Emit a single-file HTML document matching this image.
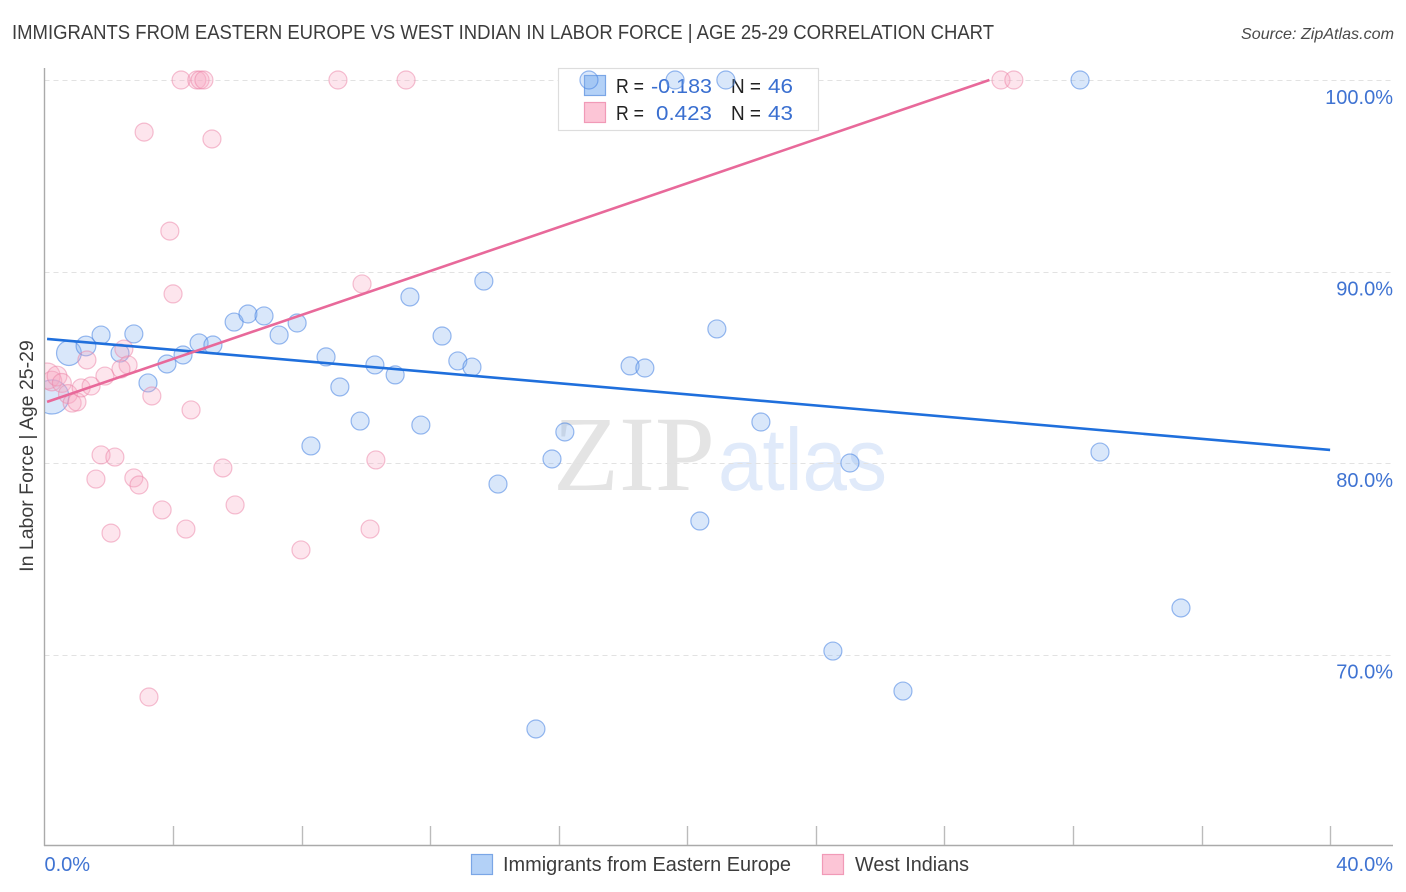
<!DOCTYPE html>
<html lang="en">
<head>
<meta charset="utf-8">
<title>Immigrants from Eastern Europe vs West Indian in Labor Force | Age 25-29 Correlation Chart</title>
<style>
html,body{margin:0;padding:0;background:#fff;width:1406px;height:892px;overflow:hidden}
svg{display:block;font-family:"Liberation Sans",sans-serif}
</style>
</head>
<body>
<svg id="chart" xmlns="http://www.w3.org/2000/svg" width="1406" height="892" viewBox="0 0 1406 892">
  <defs>
    <clipPath id="plot-clip"><rect x="45" y="60" width="1361" height="786"/></clipPath>
  </defs>
  <text x="12" y="39" font-size="20" fill="#3c3c3c" textLength="982" lengthAdjust="spacingAndGlyphs">IMMIGRANTS FROM EASTERN EUROPE VS WEST INDIAN IN LABOR FORCE | AGE 25-29 CORRELATION CHART</text>
  <text x="1394" y="39" font-size="16" font-style="italic" fill="#4a4a4a" text-anchor="end" textLength="153" lengthAdjust="spacingAndGlyphs">Source: ZipAtlas.com</text>

  <g id="watermark">
    <text x="553" y="490" font-family="'Liberation Serif',serif" font-size="107" fill="#e4e4e4" textLength="162" lengthAdjust="spacingAndGlyphs">ZIP</text>
    <text x="718" y="490" font-size="88" fill="#e0eafa" textLength="169" lengthAdjust="spacingAndGlyphs">atlas</text>
  </g>

  <g id="grid"></g>
  <g id="axes"></g>
  <g id="ticks"></g>

  <text transform="translate(33,456) rotate(-90)" font-size="19.5" fill="#3c3c3c" text-anchor="middle">In Labor Force | Age 25-29</text>

  <g>
    <rect x="558.5" y="68.5" width="260" height="62" fill="#fff" stroke="#ddd" stroke-width="1.2"/>
    <rect x="584.5" y="75.5" width="21" height="20" fill="#b3d1f7" stroke="#7aa6e6" stroke-width="1.2"/>
    <rect x="584.5" y="102.5" width="21" height="20" fill="#fcc5d6" stroke="#f19ab7" stroke-width="1.2"/>
    <g font-size="20">
      <text x="616" y="93" fill="#222" textLength="28" lengthAdjust="spacingAndGlyphs">R =</text>
      <text x="651" y="93" fill="#3a6fd0" textLength="61" lengthAdjust="spacingAndGlyphs">-0.183</text>
      <text x="731" y="93" fill="#222" textLength="30" lengthAdjust="spacingAndGlyphs">N =</text>
      <text x="768" y="93" fill="#3a6fd0" textLength="25" lengthAdjust="spacingAndGlyphs">46</text>
      <text x="616" y="120" fill="#222" textLength="28" lengthAdjust="spacingAndGlyphs">R =</text>
      <text x="656" y="120" fill="#3a6fd0" textLength="56" lengthAdjust="spacingAndGlyphs">0.423</text>
      <text x="731" y="120" fill="#222" textLength="30" lengthAdjust="spacingAndGlyphs">N =</text>
      <text x="768" y="120" fill="#3a6fd0" textLength="25" lengthAdjust="spacingAndGlyphs">43</text>
    </g>
  </g>

  <g id="points-blue" clip-path="url(#plot-clip)"></g>
  <g id="points-pink" clip-path="url(#plot-clip)"></g>
  <g id="trends"></g>

  <g>
    <rect x="471.5" y="854.5" width="21" height="20" fill="#b3d1f7" stroke="#7aa6e6" stroke-width="1.2"/>
    <text x="503" y="871" font-size="20" fill="#3c3c3c" textLength="288" lengthAdjust="spacingAndGlyphs">Immigrants from Eastern Europe</text>
    <rect x="822.5" y="854.5" width="21" height="20" fill="#fcc5d6" stroke="#f19ab7" stroke-width="1.2"/>
    <text x="855" y="871" font-size="20" fill="#3c3c3c" textLength="114" lengthAdjust="spacingAndGlyphs">West Indians</text>
  </g>
</svg>

<script>
// Data
var yTickValues = [100, 90, 80, 70];
var yTickLabels = ['100.0%', '90.0%', '80.0%', '70.0%'];
var xTickValues = [4, 8, 12, 16, 20, 24, 28, 32, 36, 40];
var xEndValues = [0, 40];
var xEndLabels = ['0.0%', '40.0%'];

var blueX = [0.23,0.76,1.29,1.76,2.78,2.35,3.22,3.81,4.31,4.81,5.24,5.90,6.33,6.83,7.30,7.86,8.76,9.19,9.82,8.29,10.28,10.91,11.37,11.71,12.37,12.86,13.30,13.67,14.11,15.79,16.19,18.22,18.68,20.92,20.39,22.29,25.06,24.53,26.71,15.29,32.84,35.36,32.22,16.94,19.62,21.20];
var blueY = [83.45,85.74,86.11,86.68,86.74,85.74,84.18,85.17,85.64,86.27,86.16,87.36,87.78,87.68,86.68,87.31,85.54,83.97,82.19,80.89,85.12,84.60,88.67,81.98,86.63,85.33,85.01,89.50,78.90,80.21,81.62,85.07,84.96,87.00,76.97,82.14,80.00,70.18,68.09,66.11,80.57,72.43,100,100,100,100];
var blueWeight = [3.6,1.9,1.2,1,1,1,1,1,1,1,1,1,1,1,1,1,1,1,1,1,1,1,1,1,1,1,1,1,1,1,1,1,1,1,1,1,1,1,1,1,1,1,1,1,1,1];

var pinkX = [0.08,0.23,0.39,0.54,0.73,0.86,1.01,1.14,1.45,1.32,1.88,2.47,2.60,2.38,3.34,4.56,1.76,2.19,1.60,2.78,2.94,3.66,2.07,4.40,5.55,5.93,7.98,10.13,10.31,3.25,4.00,3.90,3.10,5.21,9.88,4.25,4.74,4.84,4.96,9.13,11.25,29.76,30.16];
var pinkY = [84.54,84.28,84.54,84.18,83.60,83.13,83.19,83.92,84.02,85.38,84.54,85.95,85.12,84.91,83.50,82.77,80.42,80.31,79.16,79.22,78.85,77.55,76.34,76.55,79.74,77.81,75.46,76.55,80.16,67.78,88.83,92.11,97.28,96.92,89.35,100,100,100,100,100,100,100,100];
var pinkWeight = [2.1,1.2,1.2,1.1,1.1,1,1,1,1,1,1,1,1,1,1,1,1,1,1,1,1,1,1,1,1,1,1,1,1,1,1,1,1,1,1,1,1,1,1,1,1,1,1];

var blueTrendX = [0.08, 40];
var blueTrendY = [86.48, 80.68];
var pinkTrendX = [0.08, 29.4];
var pinkTrendY = [83.19, 100];

// Axis functions
function xScale(v) { return 44.5 + v * 32.14; }
function yScale(v) { return 80 + (100 - v) * 19.15; }
function radius(w) { return 9 * Math.sqrt(w); }

var NS = 'http://www.w3.org/2000/svg';
function make(tag, attrs, parent) {
  var el = document.createElementNS(NS, tag);
  for (var k in attrs) el.setAttribute(k, attrs[k]);
  parent.appendChild(el);
  return el;
}

var grid = document.getElementById('grid');
var axes = document.getElementById('axes');
var ticks = document.getElementById('ticks');

yTickValues.forEach(function (v, i) {
  var y = Math.round(yScale(v)) + 0.5;
  var line = make('line', {x1: 44.5, x2: 1393, y1: y, y2: y, stroke: '#e2e2e2', 'stroke-width': 1, 'stroke-dasharray': '5 4'}, grid);
  
  
  var label = make('text', {x: 1393, y: yScale(v) + 24, 'font-size': 20, fill: '#3f73d2', 'text-anchor': 'end'}, ticks);
  label.textContent = yTickLabels[i];
  
  
});

var yAxis = make('line', {x1: 44.5, x2: 44.5, y1: 68, y2: 846, stroke: '#aaa', 'stroke-width': 1.4}, axes);


var xAxis = make('line', {x1: 44, x2: 1393, y1: 845.5, y2: 845.5, stroke: '#aaa', 'stroke-width': 1.4}, axes);



xTickValues.forEach(function (v) {
  var x = Math.round(xScale(v)) + 0.5;
  var tick = make('line', {x1: x, x2: x, y1: 826, y2: 845, stroke: '#bbb', 'stroke-width': 1.4}, ticks);
  
  
});

xEndValues.forEach(function (v, i) {
  var label = make('text', {x: i === 0 ? xScale(v) : 1393, y: 871, 'font-size': 20, fill: '#3f73d2', 'text-anchor': i === 0 ? 'start' : 'end'}, ticks);
  label.textContent = xEndLabels[i];
  
  
});

var blueGroup = document.getElementById('points-blue');
blueX.forEach(function (v, i) {
  var dot = make('circle', {cx: xScale(v), cy: yScale(blueY[i]), r: radius(blueWeight[i]), fill: 'rgba(130,175,240,0.3)', stroke: 'rgba(70,130,225,0.55)', 'stroke-width': 1.2}, blueGroup);
  
  
});

var pinkGroup = document.getElementById('points-pink');
pinkX.forEach(function (v, i) {
  var dot = make('circle', {cx: xScale(v), cy: yScale(pinkY[i]), r: radius(pinkWeight[i]), fill: 'rgba(248,170,195,0.3)', stroke: 'rgba(235,130,165,0.5)', 'stroke-width': 1.2}, pinkGroup);
  
  
});

var trends = document.getElementById('trends');
var blueLine = make('line', {x1: xScale(blueTrendX[0]), y1: yScale(blueTrendY[0]), x2: xScale(blueTrendX[1]), y2: yScale(blueTrendY[1]), stroke: '#1f6fdc', 'stroke-width': 2.6}, trends);


var pinkLine = make('line', {x1: xScale(pinkTrendX[0]), y1: yScale(pinkTrendY[0]), x2: xScale(pinkTrendX[1]), y2: yScale(pinkTrendY[1]), stroke: '#e8699a', 'stroke-width': 2.6}, trends);


</script>
</body>
</html>
